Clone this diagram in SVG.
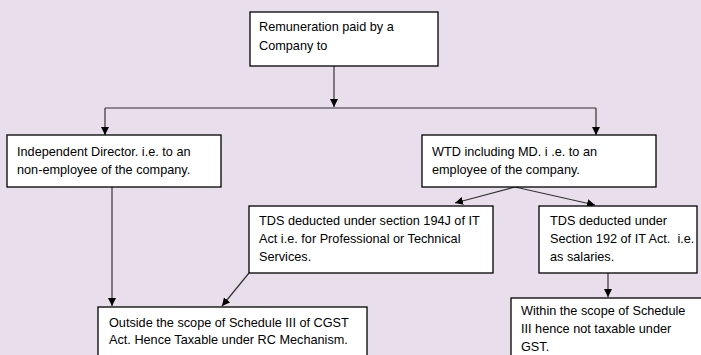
<svg xmlns="http://www.w3.org/2000/svg" width="701" height="355" viewBox="0 0 701 355">
<defs>
<marker id="ah" viewBox="0 0 10 10" refX="10" refY="5" markerWidth="8" markerHeight="8" markerUnits="userSpaceOnUse" orient="auto">
<path d="M0,0 L10,5 L0,10 z" fill="#000"/>
</marker>
<style>
.box{fill:#fff;stroke:#000;stroke-width:1.3}
.t{font-family:"Liberation Sans",Arial,sans-serif;font-size:12.7px;fill:#000;white-space:pre}
.c{fill:none;stroke:#333;stroke-width:1.2}
.a{marker-end:url(#ah)}
</style>
</defs>
<rect width="701" height="355" fill="#E9DFEC"/>
<g id="connectors">
<path class="c a" d="M334,66 V107"/>
<path class="c" d="M105,108 H596"/>
<path class="c a" d="M105,108 V135"/>
<path class="c a" d="M596,108 V135"/>
<path class="c a" d="M515,187 L455,203"/>
<path class="c a" d="M515,187 L595,205"/>
<path class="c a" d="M112,187 V306"/>
<path class="c a" d="M249,273 L222,306"/>
<path class="c a" d="M608,273 V297"/>
</g>
<g id="n-top">
<rect class="box" x="250" y="12" width="188" height="54"/>
<text class="t" x="259" y="31">Remuneration paid by a</text>
<text class="t" x="259" y="50">Company to</text>
</g>
<g id="n-independent">
<rect class="box" x="7" y="135" width="214" height="52"/>
<text class="t" x="17" y="156">Independent Director. i.e. to an</text>
<text class="t" x="17" y="174">non-employee of the company.</text>
</g>
<g id="n-wtd">
<rect class="box" x="422" y="135" width="234" height="52"/>
<text class="t" x="432" y="156">WTD including MD. i .e. to an</text>
<text class="t" x="432" y="174">employee of the company.</text>
</g>
<g id="n-tds194j">
<rect class="box" x="249" y="206" width="244" height="67"/>
<text class="t" x="259" y="225">TDS deducted under section 194J of IT</text>
<text class="t" x="259" y="243">Act i.e. for Professional or Technical</text>
<text class="t" x="259" y="261">Services.</text>
</g>
<g id="n-tds192">
<rect class="box" x="539" y="206" width="158" height="67"/>
<text class="t" x="550" y="225">TDS deducted under</text>
<text class="t" x="550" y="243">Section 192 of IT Act.  i.e.</text>
<text class="t" x="550" y="261">as salaries.</text>
</g>
<g id="n-outside">
<rect class="box" x="98" y="307" width="269" height="60"/>
<text class="t" x="109" y="327">Outside the scope of Schedule III of CGST</text>
<text class="t" x="109" y="344">Act. Hence Taxable under RC Mechanism.</text>
</g>
<g id="n-within">
<rect class="box" x="511" y="298" width="200" height="70"/>
<text class="t" x="521" y="315">Within the scope of Schedule</text>
<text class="t" x="521" y="333">III hence not taxable under</text>
<text class="t" x="521" y="351">GST.</text>
</g>
</svg>
